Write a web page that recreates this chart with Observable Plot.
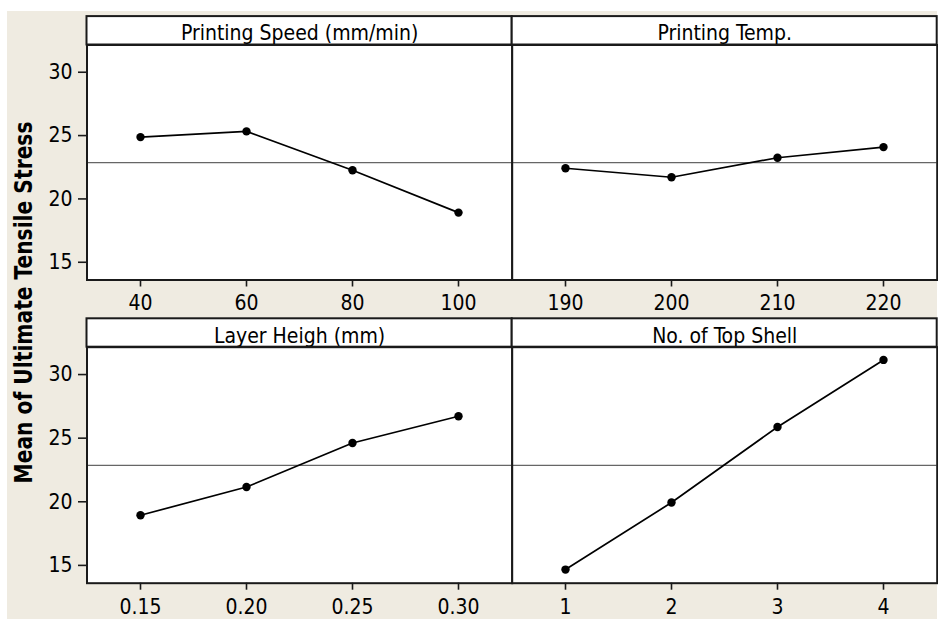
<!DOCTYPE html>
<html>
<head>
<meta charset="utf-8">
<script src="https://cdn.jsdelivr.net/npm/d3@7"></script>
<script src="https://cdn.jsdelivr.net/npm/@observablehq/plot@0.6"></script>
<style>
  html, body { margin: 0; padding: 0; background: white; }
  #wrap { position: relative; width: 938px; height: 619px; overflow: hidden; }
  #bg { position: absolute; left: 7px; top: 11px; width: 930px; height: 608px; background: #EFEBE1; }
  #wrap svg { position: absolute; left: 0; top: 0; }
</style>
</head>
<body>
<div id="wrap"><div id="bg"></div></div>
<script>
// ---- data ----
const speedLevels = ["40", "60", "80", "100"];
const speedMeans  = [24.88, 25.33, 22.26, 18.92];
const tempLevels  = ["190", "200", "210", "220"];
const tempMeans   = [22.42, 21.71, 23.25, 24.09];
const layerLevels = ["0.15", "0.20", "0.25", "0.30"];
const layerMeans  = [18.94, 21.16, 24.62, 26.72];
const shellLevels = ["1", "2", "3", "4"];
const shellMeans  = [14.67, 19.94, 25.88, 31.15];
const grandMean   = 22.86;
const yTicks      = [15, 20, 25, 30];
const titles      = ["Printing Speed (mm/min)", "Printing Temp.", "Layer Heigh (mm)", "No. of Top Shell"];
const yLabel      = "Mean of Ultimate Tensile Stress";

// ---- layout ----
const W = 938, H = 619;
const cols = [[86.5, 511.7], [511.7, 936.7]];
const rows = [[44.5, 279.5], [346.7, 582.7]];
const stripH = 28.4;
const yDomain = [13.6, 32.15];
const FONT = "'DejaVu Sans Condensed', 'DejaVu Sans', Verdana, sans-serif";
const INK = "#1a1a1a";

const panels = [
  {levels: speedLevels, means: speedMeans, title: titles[0], c: 0, r: 0},
  {levels: tempLevels,  means: tempMeans,  title: titles[1], c: 1, r: 0},
  {levels: layerLevels, means: layerMeans, title: titles[2], c: 0, r: 1},
  {levels: shellLevels, means: shellMeans, title: titles[3], c: 1, r: 1}
];

const wrap = document.getElementById("wrap");

for (const p of panels) {
  const [x0, x1] = cols[p.c];
  const [y0, y1] = rows[p.r];
  const data = p.levels.map((l, i) => ({level: l, value: p.means[i]}));
  const strip = () => {
    const g = d3.create("svg:g");
    g.append("rect")
      .attr("x", x0).attr("y", y0 - stripH)
      .attr("width", x1 - x0).attr("height", stripH)
      .attr("fill", "white").attr("stroke", INK).attr("stroke-width", 2);
    return g.node();
  };
  const chart = Plot.plot({
    width: W, height: H,
    marginLeft: x0, marginRight: W - x1,
    marginTop: y0, marginBottom: H - y1,
    style: {background: "transparent", fontFamily: FONT, fontSize: "21px", color: "black", overflow: "visible"},
    x: {type: "point", domain: p.levels, padding: 0.49},
    y: {domain: yDomain},
    marks: [
      Plot.frame({fill: "white", stroke: null}),
      strip,
      Plot.text([p.title], {frameAnchor: "top", lineAnchor: "middle", dy: -11.4, fontSize: 21, fill: "black"}),
      Plot.ruleY([grandMean], {stroke: "#666", strokeWidth: 1.3}),
      Plot.line(data, {x: "level", y: "value", stroke: "black", strokeWidth: 1.7}),
      Plot.dot(data, {x: "level", y: "value", r: 4.2, fill: "black", stroke: "none"}),
      Plot.axisX({tickSize: 7, tickPadding: 8.5, strokeWidth: 1.6, label: null, stroke: INK}),
      Plot.axisY({ticks: yTicks, tickSize: 8.5, tickPadding: 6, strokeWidth: 1.6, label: null, stroke: INK,
                  ...(p.c === 1 ? {tickSize: 0, tickFormat: () => ""} : {})}),
      Plot.frame({stroke: INK, strokeWidth: 2})
    ]
  });
  wrap.appendChild(chart);
}

// shared y-axis label
const ov = d3.create("svg").attr("width", W).attr("height", H);
ov.append("text")
  .attr("transform", "translate(23,302.5) rotate(-90)")
  .attr("text-anchor", "middle")
  .attr("dy", "0.35em")
  .attr("font-family", FONT)
  .attr("font-weight", "bold")
  .attr("font-size", 25)
  .attr("textLength", 362)
  .attr("lengthAdjust", "spacingAndGlyphs")
  .attr("fill", "black")
  .text(yLabel);
wrap.appendChild(ov.node());
</script>
</body>
</html>
